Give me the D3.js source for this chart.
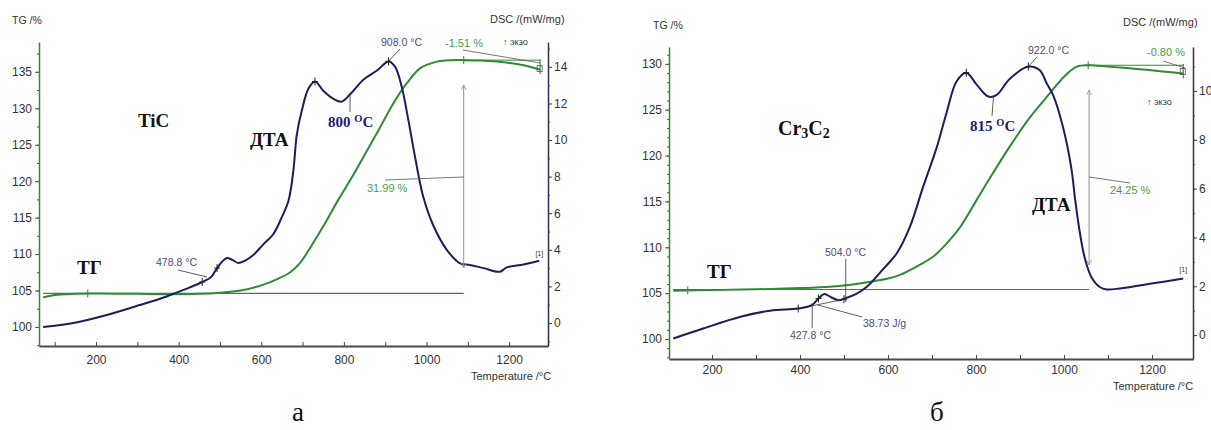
<!DOCTYPE html>
<html><head><meta charset="utf-8">
<script src="https://cdn.jsdelivr.net/npm/d3@7"></script>
<style>body{margin:0;background:#fff}svg{display:block}</style>
</head><body>
<svg id="c" width="1211" height="430"></svg>
<script>
// ---------- data ----------
const tempTicks = [200, 400, 600, 800, 1000, 1200];
const tgTicksA = [100, 105, 110, 115, 120, 125, 130, 135];
const dscTicksA = [0, 2, 4, 6, 8, 10, 12, 14];
const tgTicksB = [100, 105, 110, 115, 120, 125, 130];
const dscTicksB = [0, 2, 4, 6, 8, 10];

// TiC: DTA (DSC, mW/mg) vs temperature
const dtaTiC = [[72,-0.22],[145,0.0],[226,0.44],[306,0.98],[371,1.45],[390,1.62],[420,1.88],[457,2.24],[478,2.5],[493,3.0],[505,3.35],[517,3.55],[530,3.45],[544,3.28],[560,3.4],[580,3.7],[605,4.3],[629,4.85],[648,5.7],[666,6.7],[678,8.4],[686,10.3],[698,11.6],[714,12.8],[730,13.2],[750,12.7],[775,12.25],[795,12.1],[815,12.5],[847,13.3],[880,13.8],[908,14.3],[924,14.0],[940,12.9],[956,11.1],[972,9.1],[992,6.9],[1017,5.3],[1049,4.0],[1081,3.26],[1105,3.17],[1138,3.0],[1178,2.8],[1194,3.04],[1235,3.2],[1273,3.4]];
// TiC: TG (%) vs temperature
const tgTiC = [[72,104.07],[100,104.4],[150,104.55],[200,104.6],[300,104.55],[380,104.5],[450,104.55],[500,104.7],[550,105.0],[600,105.7],[640,106.6],[670,107.5],[694,108.8],[720,111.0],[750,113.8],[786,117.4],[820,120.6],[850,123.6],[880,126.6],[920,130.7],[952,133.4],[985,135.5],[1025,136.4],[1060,136.6],[1090,136.6],[1130,136.55],[1170,136.4],[1235,135.9],[1275,135.3]];
// Cr3C2: DTA
const dtaCr = [[112,-0.14],[180,0.27],[265,0.75],[332,1.0],[396,1.09],[427,1.23],[442,1.5],[455,1.68],[472,1.54],[487,1.43],[502,1.5],[529,1.7],[552,1.98],[589,2.7],[620,3.35],[650,4.44],[680,6.08],[711,7.7],[733,9.1],[756,10.4],[778,10.75],[802,10.25],[828,9.77],[847,9.84],[877,10.5],[919,11.0],[945,10.85],[961,10.3],[976,9.8],[998,8.5],[1017,6.8],[1025,5.6],[1036,4.2],[1048,3.1],[1063,2.35],[1082,1.96],[1097,1.87],[1127,1.91],[1203,2.12],[1271,2.32]];
// Cr3C2: TG
const tgCr = [[112,105.27],[200,105.33],[300,105.42],[400,105.55],[468,105.7],[520,105.95],[560,106.25],[600,106.6],[627,107.0],[665,107.9],[703,109.0],[733,110.4],[764,112.2],[802,115.2],[840,118.2],[877,121.0],[920,124.0],[968,126.8],[1000,128.6],[1029,129.7],[1055,129.85],[1100,129.7],[1165,129.45],[1230,129.15],[1271,128.95]];

// ---------- drawing ----------
const svg = d3.select('#c');
const BLUE = '#1d1d5e', GREEN = '#2f8a35', LGREEN = '#4a9a4a', NAVYTXT = '#4d4d78';
const sans = 'Liberation Sans, Arial, sans-serif';
const serif = 'Liberation Serif, Times New Roman, serif';

function drawPanel(c) {
  const g = svg.append('g');
  const x = d3.scaleLinear().domain(c.xd).range([c.L, c.R]);
  const tg = d3.scaleLinear().domain(c.tgd).range([c.B, c.T]);
  const dsc = d3.scaleLinear().domain(c.dscd).range([c.B, c.T]);

  const minorT = d3.range(100, 1300, 100).filter(v => v > c.xd[0] && v < c.xd[1]);
  const bx = g.append('g').attr('transform', `translate(0,${c.B})`)
    .call(d3.axisBottom(x).tickValues(minorT).tickSize(-4).tickSizeOuter(0).tickPadding(c.xpad)
      .tickFormat(v => tempTicks.includes(v) ? v : ''));
  bx.select('.domain').attr('stroke', '#4a4a4a').attr('stroke-width', 2);
  bx.selectAll('.tick line').attr('stroke', '#4a4a4a');
  bx.selectAll('text').attr('font-family', sans).attr('font-size', 12).attr('fill', '#333');

  const tgMinor = d3.range(Math.ceil(c.tgd[0] / c.tgStep) * c.tgStep, c.tgd[1], c.tgStep);
  const ly = g.append('g').attr('transform', `translate(${c.L},0)`)
    .call(d3.axisLeft(tg).tickValues(tgMinor).tickSize(2).tickSizeOuter(0).tickFormat(''));
  ly.select('.domain').attr('stroke', GREEN).attr('stroke-width', 1.5);
  ly.selectAll('.tick line').attr('stroke', '#555');
  const ly2 = g.append('g').attr('transform', `translate(${c.L},0)`)
    .call(d3.axisLeft(tg).tickValues(c.tgTicks).tickSize(4).tickPadding(3).tickSizeOuter(0));
  ly2.select('.domain').remove();
  ly2.selectAll('.tick line').attr('stroke', '#555');
  ly2.selectAll('text').attr('font-family', sans).attr('font-size', 12).attr('fill', '#333');

  const dMinor = d3.range(Math.ceil(c.dscd[0]), c.dscd[1], 1);
  const ry = g.append('g').attr('transform', `translate(${c.R},0)`)
    .call(d3.axisRight(dsc).tickValues(dMinor).tickSize(2).tickSizeOuter(0).tickFormat(''));
  ry.select('.domain').attr('stroke', '#2e2e4e').attr('stroke-width', 1.5);
  ry.selectAll('.tick line').attr('stroke', '#444');
  const ry2 = g.append('g').attr('transform', `translate(${c.R},0)`)
    .call(d3.axisRight(dsc).tickValues(c.dscTicks).tickSize(4).tickPadding(2).tickSizeOuter(0));
  ry2.select('.domain').remove();
  ry2.selectAll('.tick line').attr('stroke', '#444');
  ry2.selectAll('text').attr('font-family', sans).attr('font-size', 12).attr('fill', '#333');

  const t = (s, px, py, opt = {}) => g.append('text').attr('x', px).attr('y', py)
    .attr('font-family', opt.ff || sans).attr('font-size', opt.fs || 11)
    .attr('font-weight', opt.fw || 'normal').attr('fill', opt.fill || '#333')
    .attr('text-anchor', opt.anchor || 'start').text(s);
  t('TG /%', c.tgLab[0], c.tgLab[1], {fs: 10.5});
  t('DSC /(mW/mg)', c.dscLab[0], c.dscLab[1], {fs: 11});
  t('Temperature /°C', c.tLab[0], c.tLab[1], {fs: 11});
  t(c.letter, c.letterPos[0], c.letterPos[1], {ff: serif, fs: 27, fill: '#111'});

  const lineTG = d3.line().x(d => x(d[0])).y(d => tg(d[1])).curve(d3.curveCatmullRom.alpha(0.5));
  const lineDSC = d3.line().x(d => x(d[0])).y(d => dsc(d[1])).curve(d3.curveCatmullRom.alpha(0.5));
  g.append('line').attr('x1', x(c.tg[0][0])).attr('x2', x(c.stepT))
    .attr('y1', tg(c.tgBase)).attr('y2', tg(c.tgBase)).attr('stroke', GREEN).attr('stroke-width', 1.2);
  g.append('path').datum(c.tg).attr('d', lineTG).attr('fill', 'none').attr('stroke', GREEN).attr('stroke-width', 2);
  g.append('path').datum(c.dta).attr('d', lineDSC).attr('fill', 'none').attr('stroke', BLUE).attr('stroke-width', 2);

  return {g, x, tg, dsc, t};
}

function cross(g, px, py, col) {
  g.append('path').attr('d', `M${px-3},${py}H${px+3}M${px},${py-4}V${py+4}`).attr('stroke', col || '#222').attr('stroke-width', 1);
}
function seg(g, x1, y1, x2, y2, col, w) {
  g.append('line').attr('x1', x1).attr('y1', y1).attr('x2', x2).attr('y2', y2)
    .attr('stroke', col || '#555').attr('stroke-width', w || 0.8);
}
function dimArrow(g, px, y1, y2, col) {
  seg(g, px, y1, px, y2, col, 1);
  g.append('path').attr('d', `M${px-2.5},${y1+5}L${px},${y1}L${px+2.5},${y1+5}`).attr('fill', 'none').attr('stroke', col).attr('stroke-width', 0.8);
  g.append('path').attr('d', `M${px-2.5},${y2-5}L${px},${y2}L${px+2.5},${y2-5}`).attr('fill', 'none').attr('stroke', col).attr('stroke-width', 0.8);
}
function marker(g, px, py) {
  g.append('text').attr('x', px).attr('y', py).attr('font-family', sans).attr('font-size', 7).attr('fill', '#333').attr('text-anchor', 'middle').text('[1]');
}
function supText(g, px, py, main, fs, col) {
  const tx = g.append('text').attr('x', px).attr('y', py).attr('font-family', serif)
    .attr('font-size', fs).attr('font-weight', 'bold').attr('fill', col);
  tx.append('tspan').text(main + ' ');
  tx.append('tspan').attr('font-size', fs * 0.7).attr('dy', -fs * 0.35).text('O');
  tx.append('tspan').attr('dy', fs * 0.35).text('C');
}

// ---------- panel a: TiC ----------
const A = drawPanel({
  L: 39, R: 548, T: 42, B: 346, xd: [62, 1294], tgd: [97.39, 139.09], dscd: [-1.258, 15.36],
  tgTicks: tgTicksA, tgStep: 2.5, dscTicks: dscTicksA, xpad: 9,
  tgLab: [12, 24], dscLab: [490, 23], tLab: [471, 380], letter: 'а', letterPos: [292, 421],
  dta: dtaTiC, tg: tgTiC, tgBase: 104.6, stepT: 1090
});
(function () {
  const {g, x, tg, dsc, t} = A;
  t('ТГ', 77, 274, {ff: serif, fs: 19, fw: 'bold', fill: '#111'});
  t('TiC', 138, 127, {ff: serif, fs: 19, fw: 'bold', fill: '#111'});
  t('ДТА', 250, 146, {ff: serif, fs: 19, fw: 'bold', fill: '#111'});
  supText(g, 328, 127, '800', 15, '#1d1d6e');
  seg(g, 350, 112, x(815), dsc(12.5), '#333');
  t('478.8 °C', 156, 266, {fs: 10.5, fill: NAVYTXT});
  seg(g, 178, 270, 207, 277, '#333');
  cross(g, x(457), dsc(2.24)); cross(g, x(493), dsc(3.0));
  cross(g, x(180), tg(104.6), GREEN);
  cross(g, x(730), dsc(13.2));
  t('908.0 °C', 381, 46, {fs: 10.5, fill: NAVYTXT});
  seg(g, 400, 49, x(908), dsc(14.3), '#333');
  cross(g, x(908), dsc(14.3));
  t('-1.51 %', 445, 47, {fs: 11, fill: LGREEN});
  seg(g, x(1090), tg(136.6), x(1275), tg(136.6), GREEN, 1);
  seg(g, 463, 50, 540, 63, '#555');
  cross(g, x(1090), tg(136.6), GREEN);
  g.append('rect').attr('x', x(1275) - 3).attr('y', tg(135.3) - 4).attr('width', 5).attr('height', 6).attr('fill', 'none').attr('stroke', '#555').attr('stroke-width', 0.8);
  seg(g, x(1275), tg(136.7), x(1275), tg(134.7), '#333');
  t('↑ экзо', 503, 45, {fs: 9, fill: '#333'});
  dimArrow(g, x(1090), tg(133.2), tg(108.1), '#7f9f7f');
  t('31.99 %', 367, 192, {fs: 11, fill: LGREEN});
  seg(g, 385, 180, x(1090), 177, '#555');
  marker(g, x(1273), dsc(3.65));
})();

// ---------- panel b: Cr3C2 ----------
const B = drawPanel({
  L: 669, R: 1193, T: 47, B: 359, xd: [102.3, 1293.2], tgd: [97.82, 131.84], dscd: [-0.98, 11.8],
  tgTicks: tgTicksB, tgStep: 1, dscTicks: dscTicksB, xpad: 6,
  tgLab: [653, 29], dscLab: [1123, 26], tLab: [1113, 390], letter: 'б', letterPos: [930, 421],
  dta: dtaCr, tg: tgCr, tgBase: 105.4, stepT: 1057
});
(function () {
  const {g, x, tg, dsc, t} = B;
  t('ТГ', 707, 278, {ff: serif, fs: 19, fw: 'bold', fill: '#111'});
  const cr = g.append('text').attr('x', 778).attr('y', 135).attr('font-family', serif)
    .attr('font-size', 20).attr('font-weight', 'bold').attr('fill', '#111');
  cr.append('tspan').text('Cr');
  cr.append('tspan').attr('font-size', 14).attr('dy', 3).text('3');
  cr.append('tspan').attr('dy', -3).text('C');
  cr.append('tspan').attr('font-size', 14).attr('dy', 3).text('2');
  t('ДТА', 1032, 211, {ff: serif, fs: 19, fw: 'bold', fill: '#111'});
  supText(g, 970, 131, '815', 15, '#1d1d6e');
  seg(g, 992, 116, x(840), dsc(9.8), '#333');
  seg(g, x(427.8), dsc(1.2), x(504), dsc(1.48), '#333');
  seg(g, x(504), 259, x(504), 302, '#333');
  seg(g, x(427.8), 303, x(427.8), 328, '#333');
  seg(g, 818, 305, 862, 317, '#333');
  t('504.0 °C', 825, 256, {fs: 10.5, fill: NAVYTXT});
  t('427.8 °C', 790, 339, {fs: 10.5, fill: NAVYTXT});
  t('38.73 J/g', 863, 327, {fs: 10.5, fill: NAVYTXT});
  cross(g, x(396), dsc(1.09)); cross(g, x(442), dsc(1.5)); cross(g, x(500), dsc(1.47));
  cross(g, x(145), tg(105.3), GREEN);
  cross(g, x(778), dsc(10.75));
  t('922.0 °C', 1028, 54, {fs: 10.5, fill: NAVYTXT});
  seg(g, 1037, 57, x(919), dsc(11.0), '#333');
  cross(g, x(919), dsc(11.0));
  t('-0.80 %', 1147, 56, {fs: 11, fill: LGREEN});
  seg(g, x(1055), tg(129.85), x(1271), tg(129.85), GREEN, 1);
  seg(g, 1163, 61, 1185, 68, '#555');
  cross(g, x(1055), tg(129.85), GREEN);
  g.append('rect').attr('x', x(1271) - 3).attr('y', tg(128.95) - 5).attr('width', 5).attr('height', 6).attr('fill', 'none').attr('stroke', '#555').attr('stroke-width', 0.8);
  seg(g, x(1271), tg(130), x(1271), tg(128.4), '#333');
  t('↑ экзо', 1147, 105, {fs: 9, fill: '#333'});
  dimArrow(g, x(1057), 90, 265, '#7f9f7f');
  t('24.25 %', 1110, 194, {fs: 11, fill: LGREEN});
  seg(g, x(1057), 177, 1130, 183, '#555');
  marker(g, x(1271), dsc(2.6));
})();
</script>
</body></html>
